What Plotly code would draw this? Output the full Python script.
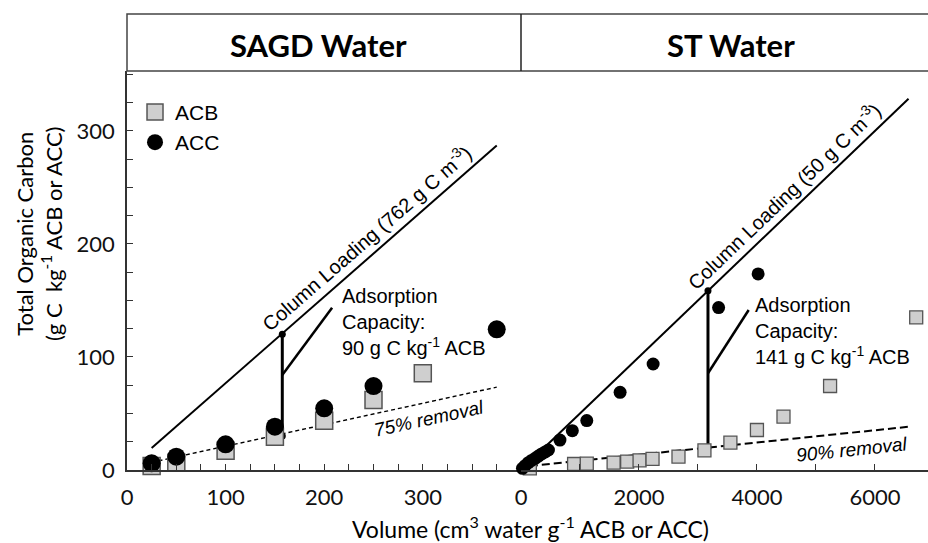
import plotly.graph_objects as go

# ---------------- data: SAGD water panel ----------------
sagd_acb_x = [25, 50, 100, 150, 200, 250, 300]
sagd_acb_y = [3.5, 6.5, 17, 29.5, 43.6, 62, 85.5]
sagd_acc_x = [25, 50, 100, 150, 200, 250, 375]
sagd_acc_y = [5.9, 11.8, 22.7, 38.3, 54.6, 74.3, 124.5]
sagd_loading_x = [25, 375]
sagd_loading_y = [19.5, 287]
sagd_removal_x = [25, 375]
sagd_removal_y = [6.8, 73.3]
sagd_capacity_x = [157.5, 157.5]
sagd_capacity_y = [120, 30]
sagd_leader_x = [157.5, 208]
sagd_leader_y = [84, 143.6]

# ---------------- data: ST water panel ----------------
st_acb_x = [150, 900, 1115, 1570, 1800, 2010, 2230, 2670, 3110, 3550, 4000, 4450, 5240, 6700]
st_acb_y = [1.5, 5.3, 5.6, 6.5, 7.4, 8.5, 9.8, 11.8, 17.4, 24.2, 35.4, 47.2, 74.3, 135]
st_acc_x = [25, 70, 125, 180, 240, 295, 350, 410, 465, 660, 870, 1115, 1680, 2240, 3350, 4020]
st_acc_y = [1.5, 3.8, 6.5, 8.5, 10.3, 12.3, 14.2, 16, 17.7, 26.5, 34.8, 43.7, 68.7, 93.8, 143.7, 173.5]
st_loading_x = [30, 6570]
st_loading_y = [1.5, 328.5]
st_removal_x = [150, 6580]
st_removal_y = [3.5, 38.3]
st_capacity_x = [3170, 3170]
st_capacity_y = [158.5, 19.8]
st_leader_x = [3170, 3860]
st_leader_y = [85.6, 141.6]

panel_titles = ["SAGD Water", "ST Water"]
x_title = "Volume (cm<sup>3</sup> water g<sup>-1</sup> ACB or ACC)"
y_title = "Total Organic Carbon<br>(g C  kg<sup>-1</sup> ACB or ACC)"

SQ_FILL = "#cfcfcf"
SQ_LINE = "#555555"
TXT = "Liberation Sans, Arial, sans-serif"
TICKF = "Lato, Calibri, sans-serif"

fig = go.Figure()

def line(x, y, xa, width, dash="solid", markers=False):
    fig.add_trace(go.Scatter(
        x=x, y=y, xaxis=xa, yaxis="y", mode="lines+markers" if markers else "lines",
        line=dict(color="black", width=width, dash=dash),
        marker=dict(color="black", size=7),
        showlegend=False, hoverinfo="skip", cliponaxis=False))

# reference lines
line(sagd_loading_x, sagd_loading_y, "x", 2)
line(sagd_removal_x, sagd_removal_y, "x", 1.4, dash="4px,3px")
line(sagd_capacity_x, sagd_capacity_y, "x", 3, markers=True)
line(sagd_leader_x, sagd_leader_y, "x", 2.5)
line(st_loading_x, st_loading_y, "x2", 2)
line(st_removal_x, st_removal_y, "x2", 2, dash="8px,4px")
line(st_capacity_x, st_capacity_y, "x2", 3, markers=True)
line(st_leader_x, st_leader_y, "x2", 2.5)

# data points
fig.add_trace(go.Scatter(
    x=sagd_acb_x, y=sagd_acb_y, xaxis="x", yaxis="y", mode="markers", name="ACB",
    marker=dict(symbol="square", size=17, color=SQ_FILL, line=dict(color=SQ_LINE, width=1.5)),
    cliponaxis=False))
fig.add_trace(go.Scatter(
    x=sagd_acc_x, y=sagd_acc_y, xaxis="x", yaxis="y", mode="markers", name="ACC",
    marker=dict(symbol="circle", size=18, color="black"), cliponaxis=False))
fig.add_trace(go.Scatter(
    x=st_acb_x, y=st_acb_y, xaxis="x2", yaxis="y", mode="markers", name="ACB",
    marker=dict(symbol="square", size=13, color=SQ_FILL, line=dict(color=SQ_LINE, width=1.3)),
    showlegend=False, cliponaxis=False))
fig.add_trace(go.Scatter(
    x=st_acc_x, y=st_acc_y, xaxis="x2", yaxis="y", mode="markers", name="ACC",
    marker=dict(symbol="circle", size=13, color="black"), showlegend=False, cliponaxis=False))

split = 394 / 801

axis_common = dict(
    showline=True, linecolor="#333333", linewidth=1.5, ticks="inside", ticklen=6,
    tickcolor="#333333", tickwidth=1.2, showgrid=False, zeroline=False,
    tickfont=dict(family=TICKF, size=22, color="#111111"),
)

fig.update_layout(
    width=928, height=543,
    margin=dict(l=127, r=0, t=71, b=73),
    paper_bgcolor="white", plot_bgcolor="white",
    xaxis=dict(domain=[0, split], range=[0, 399.6], dtick=100, tick0=0,
               minor=dict(dtick=25, ticks="inside", ticklen=6, tickcolor="#333333"),
               ticklabelstandoff=7, **axis_common),
    xaxis2=dict(domain=[split, 1], range=[0, 6900], dtick=2000, tick0=0,
                minor=dict(dtick=1000, ticks="inside", ticklen=6, tickcolor="#333333"),
                ticklabelstandoff=7, **axis_common),
    yaxis=dict(range=[0, 353], dtick=100, tick0=0,
               minor=dict(dtick=25, ticks="inside", ticklen=6, tickcolor="#333333"),
               ticklabelstandoff=6, **axis_common),
    yaxis2=dict(range=[0, 353], overlaying="y", anchor="x2", side="left", dtick=100,
                minor=dict(dtick=25, ticks="inside", ticklen=6, tickcolor="#333333"),
                showticklabels=False, **axis_common),
    legend=dict(x=0.01, y=0.948, xanchor="left", yanchor="top",
                font=dict(family=TXT, size=21, color="black"),
                bgcolor="rgba(0,0,0,0)", tracegroupgap=0, itemwidth=30),
    showlegend=True,
)

# header strip
ytop = (470 - 14) / 399
fig.add_shape(type="rect", xref="paper", yref="paper", x0=0, x1=1.02, y0=1, y1=ytop,
              line=dict(color="#444444", width=1.5))
fig.add_shape(type="line", xref="paper", yref="paper", x0=split, x1=split, y0=1, y1=ytop,
              line=dict(color="#222222", width=1.5))

def ann(**kw):
    kw.setdefault("xanchor", "center")
    kw.setdefault("yanchor", "middle")
    fig.add_annotation(showarrow=False, **kw)

ann(xref="paper", yref="paper", x=(318 - 127) / 801, y=(470 - 45) / 399,
    text="<b>" + panel_titles[0] + "</b>", font=dict(family=TICKF, size=31, color="black"))
ann(xref="paper", yref="paper", x=(731 - 127) / 801, y=(470 - 45) / 399,
    text="<b>" + panel_titles[1] + "</b>", font=dict(family=TICKF, size=31, color="black"))

# axis titles
ann(xref="paper", yref="paper", x=(530 - 127) / 801, y=(470 - 527) / 399,
    text=x_title, font=dict(family=TICKF, size=23, color="black"))
ann(xref="paper", yref="paper", x=(39 - 127) / 801, y=(470 - 234) / 399,
    text=y_title, textangle=-90, font=dict(family=TICKF, size=22, color="black"))

# in-plot labels
ann(xref="x", yref="y", x=241.7, y=206, textangle=-41,
    text="Column Loading (762 g C m<sup>-3</sup>)",
    font=dict(family=TXT, size=20, color="black"))
ann(xref="x", yref="y", x=306.6, y=46, textangle=-12.3,
    text="<i>75% removal</i>", font=dict(family=TXT, size=19, color="black"))
ann(xref="x", yref="y", x=216.3, y=130.5, xanchor="left", align="left",
    text="Adsorption<br>Capacity:<br>90 g C kg<sup>-1</sup> ACB",
    font=dict(family=TXT, size=20, color="black"))
ann(xref="x2", yref="y", x=4440, y=243, textangle=-43.8,
    text="Column Loading (50 g C m<sup>-3</sup>)",
    font=dict(family=TXT, size=20, color="black"))
ann(xref="x2", yref="y", x=5614, y=17.7, textangle=-6,
    text="<i>90% removal</i>", font=dict(family=TXT, size=19, color="black"))
ann(xref="x2", yref="y", x=3927, y=123, xanchor="left", align="left",
    text="Adsorption<br>Capacity:<br>141 g C kg<sup>-1</sup> ACB",
    font=dict(family=TXT, size=20, color="black"))

fig.write_html(
    "out.html",
    config={"displayModeBar": False},
    post_script="document.body.style.margin='0';document.body.style.overflow='hidden';",
)
